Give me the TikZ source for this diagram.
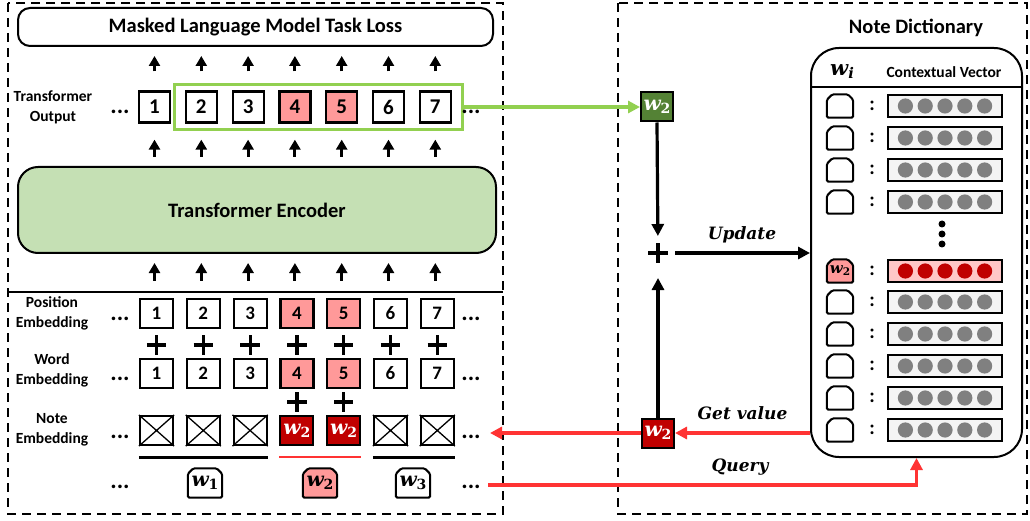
\documentclass[tikz,border=0pt]{standalone}
\usepackage{fontspec}
\setmainfont{Carlito}
\newfontfamily\serbi{DejaVu Serif}
\usetikzlibrary{arrows.meta,shapes.misc,calc,fit,backgrounds}
\definecolor{pinkc}{RGB}{255,153,153}
\definecolor{lpink}{RGB}{255,199,199}
\definecolor{dred}{RGB}{192,0,0}
\definecolor{dgreen}{RGB}{84,130,53}
\definecolor{lgreen}{RGB}{146,208,80}
\definecolor{encg}{RGB}{197,224,180}
\definecolor{rline}{RGB}{255,51,51}
\definecolor{vgray}{RGB}{128,128,128}
\definecolor{vfill}{RGB}{244,244,244}
\newcommand{\myfs}[2]{\fontsize{#1}{#2}\selectfont}
\newcommand{\wsub}[1]{{\serbi\bfseries\itshape w}\raisebox{-0.3ex}{\scalebox{0.7}{\serbi\bfseries\upshape #1}}}
\newcommand{\wsubit}[1]{{\serbi\bfseries\itshape w}\raisebox{-0.3ex}{\scalebox{0.7}{\serbi\bfseries\itshape #1}}}
\newcommand{\tagshape}[2]{%
  \draw[line width=2pt, fill=#2, rounded corners=1.5pt]
    (#1.south west) -- ($(#1.north west)+(0,5.5)$) -- ($(#1.north west)+(5.5,0)$)
    -- ($(#1.north east)+(-5.5,0)$) -- ($(#1.north east)+(0,5.5)$) -- (#1.south east) -- cycle;}
\tikzset{
  lbl/.style={font=\bfseries\myfs{15.5}{20}, align=center, inner sep=0pt},
  title/.style={font=\bfseries\myfs{20.5}{24}, inner sep=0pt},
  outbox/.style={draw, line width=2.2pt, minimum width=31pt, minimum height=31pt, inner sep=0pt, font=\bfseries\myfs{21}{22}},
  embbox/.style={draw, line width=2.2pt, minimum width=33pt, minimum height=29pt, inner sep=0pt, font=\bfseries\myfs{19}{20}},
  wbox/.style={draw, line width=2pt, minimum width=32pt, minimum height=29pt, inner sep=0pt, text=white, font=\myfs{20}{20}},
  dotsn/.style={font=\bfseries\myfs{24}{24}, inner sep=0pt},
  plusn/.style={cross out, draw, rotate=45, line width=3.2pt, minimum size=10.5pt, inner sep=0pt},
  upar/.style={line width=3pt, -{Triangle[width=11pt,length=10pt]}},
  bigar/.style={line width=3.2pt, -{Triangle[width=12pt,length=12pt]}},
  redar/.style={rline, line width=3.2pt, -{Triangle[width=12pt,length=12pt]}},
  garr/.style={lgreen, line width=3.2pt, -{Triangle[width=12pt,length=12pt]}},
  dframe/.style={line width=2.4pt, dash pattern=on 9pt off 6pt},
  tagbase/.style={inner sep=0pt},
  bigtag/.style={tagbase, minimum width=34pt, minimum height=29pt, font=\myfs{20}{20}},
  keytag/.style={tagbase, minimum width=26pt, minimum height=23pt, font=\myfs{15}{16}},
  vec/.style={draw, line width=2pt, fill=vfill, minimum width=114pt, minimum height=22pt, inner sep=0pt},
  coln/.style={font=\bfseries\myfs{20}{20}, inner sep=0pt},
  arrlbl/.style={font=\serbi\bfseries\itshape\myfs{17}{20}, inner sep=0pt}
}
\begin{document}
\begin{tikzpicture}[x=1pt,y=-1pt]
\useasboundingbox (0,0) rectangle (1030,521);
% frames
\draw[dframe] (8,3) rectangle (503,514);
\draw[dframe] (618,3) rectangle (1027,514);
\draw[line width=2.2pt] (8,292) -- (503,292);

% loss and encoder
\node[draw, line width=2pt, rounded corners=12pt, minimum width=475pt, minimum height=38pt, title] (loss) at (255.5,27) {Masked Language Model Task Loss};
\node[draw, line width=2pt, fill=encg, rounded corners=20pt, minimum width=478pt, minimum height=86pt, title] (enc) at (257,210) {Transformer Encoder};

% left labels
\node[lbl] (lout) at (53,107) {Transformer\\Output};
\node[lbl] (lpos) at (52,313) {Position\\Embedding};
\node[lbl] (lwrd) at (52,370) {Word\\Embedding};
\node[lbl] (lnote) at (52,430) {Note\\Embedding};

% rows
\foreach \i/\f in {1/white,2/white,3/white,4/pinkc,5/pinkc,6/white,7/white}{
  \pgfmathsetmacro{\ox}{154.5+46.8*(\i-1)}
  \pgfmathsetmacro{\ex}{156.5+46.8*(\i-1)}
  \node[outbox, fill=\f] (out\i) at (\ox,107) {\i};
  \node[embbox, fill=\f] (pos\i) at (\ex,313.5) {\i};
  \node[embbox, fill=\f] (wrd\i) at (\ex,373.5) {\i};
  \node[plusn] (pl\i) at ($(pos\i.south)!0.55!(wrd\i.north)$) {};
  \draw[upar, shorten <=19pt, shorten >=9pt] (out\i.north) -- (out\i.north |- loss.south);
  \draw[upar, shorten <=9pt, shorten >=16pt] (enc.north -| out\i) -- (out\i.south);
  \draw[upar, shorten <=17pt, shorten >=9pt] (pos\i.north -| out\i) -- (enc.south -| out\i);
}
\foreach \i in {1,2,3,6,7}{
  \pgfmathsetmacro{\ex}{156.5+46.8*(\i-1)}
  \node[embbox] (note\i) at (\ex,430.5) {};
  \draw[line width=1.3pt] (note\i.north west) -- (note\i.south east) (note\i.north east) -- (note\i.south west);
}
\foreach \i in {4,5}{
  \pgfmathsetmacro{\ex}{156.5+46.8*(\i-1)}
  \node[wbox, fill=dred, minimum width=33pt] (note\i) at (\ex,430.5) {\wsub{2}};
  \node[plusn] (pn\i) at ($(wrd\i.south)!0.5!(note\i.north)$) {};
}
\node[draw=lgreen, line width=2.6pt, fit=(out2)(out7), inner xsep=10.5pt, inner ysep=6pt] (gframe) {};

% dots
\foreach \n/\y in {a/112,b/319,c/379,d/437,e/487}{
  \node[dotsn] (dl\n) at (120,\y) {...};
  \node[dotsn] (dr\n) at (471,\y) {...};
}

% underlines and tags
\draw[line width=2.8pt] ([yshift=-11pt]note1.south west) -- ([yshift=-11pt]note3.south east);
\draw[rline, line width=2.8pt] ([yshift=-11pt]note4.south west) -- ([yshift=-11pt]note5.south east);
\draw[line width=2.8pt] ([yshift=-11pt]note6.south west) -- ([yshift=-11pt]note7.south east);
\node[bigtag] (t1) at (205,483) {\wsub{1}};
\node[bigtag] (t2) at (320,483) {\wsub{2}};
\node[bigtag] (t3) at (413,483) {\wsub{3}};

% right panel
\node[title] (dtitle) at (916,28) {Note Dictionary};
\node[draw, line width=2pt, rounded corners=28pt, minimum width=211pt, minimum height=409pt, inner sep=0pt] (dict) at (916.5,252.5) {};
\draw[line width=2pt] (dict.west |- 0,87) -- (dict.east |- 0,87);
\node[inner sep=0pt, font=\myfs{21}{22}] (hw) at (842,72) {\wsubit{i}};
\node[inner sep=0pt, font=\bfseries\myfs{15.5}{18}] (hcv) at (944,72) {Contextual Vector};

\foreach \r/\y in {1/106,2/138,3/170,4/202,6/302,7/334,8/366,9/398,10/430}{
  \node[keytag] (k\r) at (840,\y) {};
  \node[coln] (c\r) at (872,\y) {:};
  \node[vec] (v\r) at (945,\y) {};
  \foreach \k in {-2,...,2}{
    \fill[vgray] ($(v\r.center)+(\k*19.8,0)$) circle (7.6pt);
  }
}
\node[keytag] (k5) at (840,271) {\wsub{2}};
\node[coln] (c5) at (872,271) {:};
\node[vec, fill=lpink] (v5) at (945,271) {};
\foreach \k in {-2,...,2}{
  \fill[dred] ($(v5.center)+(\k*19.8,0)$) circle (7.6pt);
}
\foreach \y in {224,234,244}{
  \fill (942,\y) circle (3.5pt);
}

% tag outlines behind their texts
\begin{scope}[on background layer]
  \tagshape{t1}{white}
  \tagshape{t2}{pinkc}
  \tagshape{t3}{white}
  \foreach \r in {1,2,3,4,6,7,8,9,10}{\tagshape{k\r}{white}}
  \tagshape{k5}{pinkc}
\end{scope}

% middle nodes and connectors
\node[wbox, fill=dgreen] (gw) at (657,107) {\wsub{2}};
\node[wbox, fill=dred] (rw) at (658,433) {\wsub{2}};
\node[plusn] (pl) at (658,253) {};
\coordinate (notein) at (490,433);
\coordinate (qstart) at (488,485);

\draw[garr] (gframe.east) -- (gw.west);
\draw[bigar, shorten >=17pt] (gw.south) -- (pl.center);
\draw[bigar, shorten >=25pt] (rw.north) -- (pl.center);
\draw[bigar, shorten <=17pt] (pl.center) -- (pl.center -| dict.west) node[arrlbl, midway, above=8pt, xshift=8pt] {Update};
\draw[redar] (rw.east -| dict.west) -- (rw.east) node[arrlbl, midway, above=12pt, text=black] {Get value};
\draw[redar] (rw.west) -- (notein);
\draw[redar] (qstart) -| (dict.south);
\node[arrlbl] (ql) at (740,467) {Query};
\end{tikzpicture}
\end{document}
